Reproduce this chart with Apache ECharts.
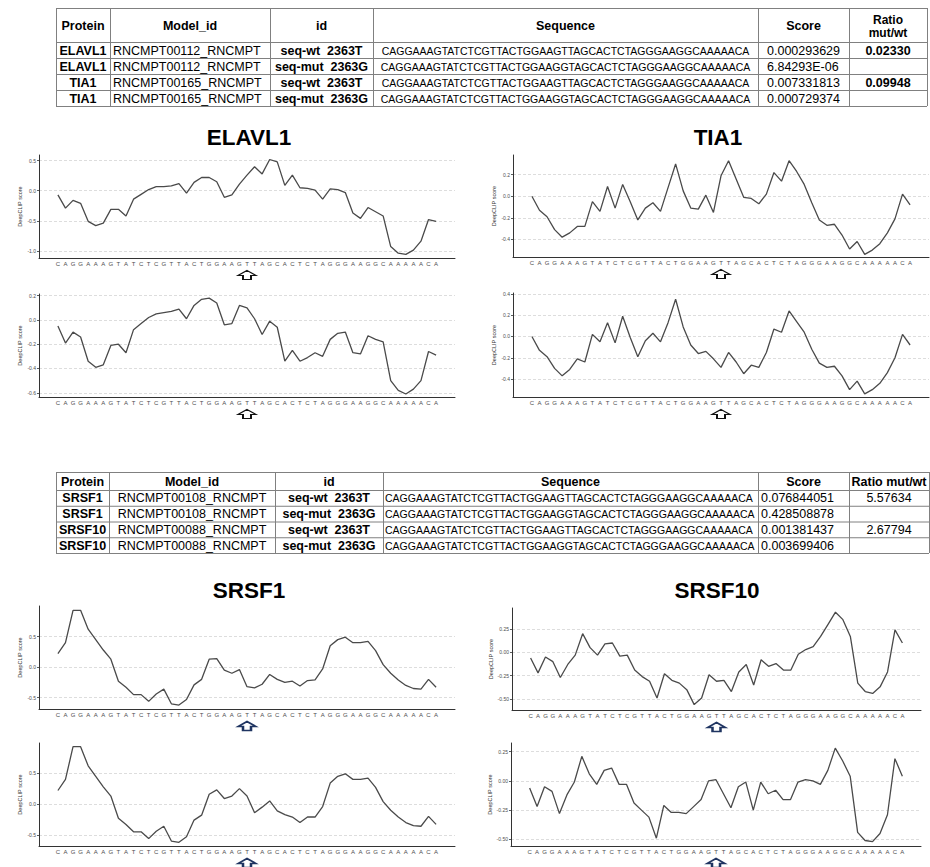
<!DOCTYPE html>
<html>
<head>
<meta charset="utf-8">
<style>
html,body{margin:0;padding:0;background:#ffffff;}
#c{width:930px;height:867px;}
</style>
<script src="https://cdn.jsdelivr.net/npm/echarts@6/dist/echarts.min.js"></script>
</head>
<body>
<div id="c"></div>
<script>
// ---------------- DATA ----------------
const seqWt = "CAGGAAAGTATCTCGTTACTGGAAGTTAGCACTCTAGGGAAGGCAAAAACA";
const seqMut = "CAGGAAAGTATCTCGTTACTGGAAGGTAGCACTCTAGGGAAGGCAAAAACA";
const xLetters = seqWt.split('');
const mutationIndex = 25;
const chartTitles = ['ELAVL1', 'TIA1', 'SRSF1', 'SRSF10'];
const yAxisName = 'DeepCLIP score';

const elavl1Wt = [-0.07,-0.29,-0.16,-0.21,-0.51,-0.58,-0.54,-0.31,-0.31,-0.42,
  -0.14,-0.06,0.02,0.07,0.07,0.08,0.12,-0.04,0.14,0.22,
  0.22,0.15,-0.11,-0.07,0.11,0.26,0.40,0.28,0.52,0.48,
  0.09,0.26,0.05,0.04,0.01,-0.14,0.03,0.02,-0.03,-0.37,
  -0.46,-0.28,-0.35,-0.42,-0.93,-1.04,-1.06,-0.99,-0.84,-0.48,
  -0.51];
const elavl1Mut = [-0.05,-0.19,-0.10,-0.14,-0.34,-0.39,-0.37,-0.21,-0.20,-0.27,
  -0.08,-0.03,0.02,0.05,0.06,0.07,0.09,0.01,0.12,0.17,
  0.18,0.14,-0.04,-0.03,0.12,0.10,0.01,-0.12,-0.01,-0.06,
  -0.34,-0.25,-0.34,-0.31,-0.27,-0.30,-0.16,-0.11,-0.10,-0.27,
  -0.28,-0.13,-0.16,-0.18,-0.50,-0.58,-0.61,-0.57,-0.50,-0.26,
  -0.29];
const tia1Wt = [0.00,-0.13,-0.19,-0.31,-0.38,-0.34,-0.28,-0.28,-0.05,-0.14,
  0.09,-0.11,0.11,-0.05,-0.22,-0.11,-0.06,-0.14,0.08,0.30,
  0.05,-0.11,-0.12,0.01,-0.15,0.19,0.33,0.16,-0.01,-0.02,
  -0.07,0.02,0.22,0.14,0.33,0.23,0.11,-0.06,-0.22,-0.27,
  -0.26,-0.36,-0.49,-0.42,-0.54,-0.50,-0.44,-0.34,-0.21,0.02,
  -0.08];
const tia1Mut = [0.00,-0.13,-0.19,-0.30,-0.37,-0.31,-0.21,-0.24,0.02,-0.05,
  0.13,-0.06,0.19,-0.01,-0.19,-0.04,0.03,-0.05,0.13,0.35,
  0.09,-0.08,-0.16,-0.14,-0.21,-0.29,-0.15,-0.24,-0.35,-0.27,
  -0.29,-0.15,0.07,0.04,0.24,0.14,0.04,-0.12,-0.25,-0.29,
  -0.28,-0.37,-0.50,-0.42,-0.54,-0.50,-0.44,-0.34,-0.20,0.02,
  -0.08];
const srsf1Wt = [0.22,0.40,0.93,0.93,0.62,0.45,0.28,0.13,-0.23,-0.33,
  -0.45,-0.45,-0.56,-0.44,-0.36,-0.60,-0.62,-0.53,-0.29,-0.20,
  0.13,0.14,-0.05,-0.10,-0.04,-0.32,-0.34,-0.28,-0.12,-0.20,
  -0.25,-0.23,-0.31,-0.22,-0.21,-0.03,0.35,0.45,0.49,0.40,
  0.40,0.42,0.27,0.04,-0.10,-0.21,-0.30,-0.35,-0.36,-0.20,
  -0.33];
const srsf1Mut = [0.22,0.40,0.93,0.93,0.62,0.45,0.28,0.13,-0.23,-0.33,
  -0.45,-0.45,-0.56,-0.44,-0.36,-0.60,-0.62,-0.53,-0.26,-0.18,
  0.16,0.23,0.09,0.13,0.25,0.13,-0.14,-0.05,0.05,-0.11,
  -0.17,-0.21,-0.30,-0.21,-0.21,-0.04,0.34,0.45,0.49,0.40,
  0.40,0.42,0.27,0.04,-0.10,-0.21,-0.30,-0.35,-0.36,-0.20,
  -0.33];
const srsf10Wt = [-0.06,-0.22,-0.05,-0.10,-0.27,-0.13,-0.03,0.20,0.05,-0.03,
  0.09,0.10,-0.04,-0.03,-0.19,-0.26,-0.31,-0.49,-0.23,-0.30,
  -0.33,-0.40,-0.56,-0.49,-0.24,-0.31,-0.30,-0.42,-0.21,-0.13,
  -0.35,-0.08,-0.15,-0.12,-0.19,-0.19,-0.02,0.03,0.06,0.17,
  0.30,0.43,0.35,0.17,-0.33,-0.42,-0.44,-0.37,-0.21,0.24,
  0.10];
const srsf10Mut = [-0.06,-0.22,-0.05,-0.09,-0.28,-0.12,-0.01,0.21,0.06,-0.03,
  0.09,0.11,-0.03,-0.03,-0.19,-0.25,-0.31,-0.49,-0.21,-0.27,
  -0.27,-0.28,-0.22,-0.16,0.00,0.01,-0.11,-0.23,-0.05,-0.01,
  -0.25,-0.01,-0.11,-0.08,-0.16,-0.16,-0.01,0.01,0.00,-0.03,
  0.09,0.28,0.17,0.04,-0.44,-0.51,-0.52,-0.45,-0.29,0.19,
  0.04];

const ticksElavl1Wt = [-1.0,-0.5,0.0,0.5];
const ticksElavl1Mut = [-0.6,-0.4,-0.2,0.0,0.2];
const ticksTia1Wt = [-0.4,-0.2,0.0,0.2];
const ticksTia1Mut = [-0.4,-0.2,0.0,0.2,0.4];
const ticksSrsf1 = [-0.5,0.0,0.5];
const ticksSrsf10 = [-0.50,-0.25,0.00,0.25];

const tableHeader = ['Protein','Model_id','id','Sequence','Score','Ratio mut/wt'];
const topProteins = ['ELAVL1','ELAVL1','TIA1','TIA1'];
const topModels = ['RNCMPT00112_RNCMPT','RNCMPT00112_RNCMPT','RNCMPT00165_RNCMPT','RNCMPT00165_RNCMPT'];
const topIds = ['seq-wt  2363T','seq-mut  2363G','seq-wt  2363T','seq-mut  2363G'];
const topSeqs = [seqWt, seqMut, seqWt, seqMut];
const topScores = ['0.000293629','6.84293E-06','0.007331813','0.000729374'];
const topRatios = ['0.02330','','0.09948',''];

const botProteins = ['SRSF1','SRSF1','SRSF10','SRSF10'];
const botModels = ['RNCMPT00108_RNCMPT','RNCMPT00108_RNCMPT','RNCMPT00088_RNCMPT','RNCMPT00088_RNCMPT'];
const botIds = ['seq-wt  2363T','seq-mut  2363G','seq-wt  2363T','seq-mut  2363G'];
const botSeqs = [seqWt, seqMut, seqWt, seqMut];
const botScores = ['0.076844051','0.428508878','0.001381437','0.003699406'];
const botRatios = ['5.57634','','2.67794',''];

// ---------------- LAYOUT / STYLE ----------------
const FONT = '"Liberation Sans", Arial, Helvetica, sans-serif';
const panelSeries = [elavl1Wt, elavl1Mut, tia1Wt, tia1Mut, srsf1Wt, srsf1Mut, srsf10Wt, srsf10Mut];
const panelTicks = [ticksElavl1Wt, ticksElavl1Mut, ticksTia1Wt, ticksTia1Mut, ticksSrsf1, ticksSrsf1, ticksSrsf10, ticksSrsf10];
const panelDecimals = [1,1,1,1,1,1,2,2];
const panelLayout = [
  {left:39, top:155, width:416, height:103, min:-1.12, max:0.595, arrow:'#111111', aw:1.4},
  {left:39, top:294, width:416, height:103, min:-0.635, max:0.214, arrow:'#111111', aw:1.4},
  {left:513, top:155, width:416, height:102, min:-0.564, max:0.383, arrow:'#111111', aw:1.4},
  {left:513, top:293, width:416, height:104, min:-0.569, max:0.409, arrow:'#111111', aw:1.4},
  {left:39, top:606, width:416, height:103, min:-0.685, max:1.0, arrow:'#1f3461', aw:1.8},
  {left:39, top:743, width:416, height:103, min:-0.68, max:0.99, arrow:'#1f3461', aw:1.8},
  {left:512, top:608, width:409, height:102, min:-0.618, max:0.475, arrow:'#1f3461', aw:1.8},
  {left:511, top:743, width:410, height:103, min:-0.557, max:0.324, arrow:'#1f3461', aw:1.8}
];
const titleLayout = [
  {x:249, y:137}, {x:718, y:137}, {x:249, y:590.5}, {x:717, y:590.5}
];
const arrowPath = 'path://M9,0 L18,5 L13,5 L13,9 L5,9 L5,5 L0,5 Z';

const grids = [], xAxes = [], yAxes = [], series = [];
panelLayout.forEach(function (p, i) {
  grids.push({left:p.left, top:p.top, width:p.width, height:p.height, containLabel:false, outerBoundsMode:'none', show:false});
  xAxes.push({
    type:'value', gridIndex:i, min:-2.5, max:52.5, interval:0.5,
    axisLine:{show:true, onZero:false, lineStyle:{color:'#333333', width:1}},
    axisTick:{show:false},
    splitLine:{show:false},
    axisLabel:{show:true, margin:3, fontSize:6, color:'#4d4d4d', fontFamily:FONT,
      showMinLabel:true, showMaxLabel:true, hideOverlap:false,
      formatter:function (v) {
        const k = Math.round(v * 2) / 2;
        return (Number.isInteger(k) && k >= 0 && k < xLetters.length) ? xLetters[k] : '';
      }}
  });
  const ticks = panelTicks[i];
  const dec = panelDecimals[i];
  yAxes.push({
    type:'value', gridIndex:i, min:p.min, max:p.max,
    name:yAxisName, nameLocation:'middle', nameGap:15,
    nameTextStyle:{fontSize:5.5, color:'#333333', fontFamily:FONT},
    axisLine:{show:true, onZero:false, lineStyle:{color:'#333333', width:1}},
    axisTick:{show:true, length:2, customValues:ticks, lineStyle:{color:'#333333', width:0.8}},
    axisLabel:{show:true, customValues:ticks, margin:3, fontSize:5, color:'#4d4d4d', fontFamily:FONT,
      formatter:function (v) { return Number(v).toFixed(dec); }},
    splitLine:{show:true, lineStyle:{color:'#d4d4d4', width:0.8, type:[3,2]}}
  });
  series.push({
    type:'line', xAxisIndex:i, yAxisIndex:i, silent:true, animation:false,
    symbol:'none', showSymbol:false,
    lineStyle:{color:'#4a4a4a', width:1.3},
    data: panelSeries[i].map(function (v, k) { return [k, v]; }),
    markPoint:{
      silent:true, animation:false,
      symbol:arrowPath, symbolSize:[18,9], symbolOffset:[0,17],
      label:{show:false},
      itemStyle:{color:'#ffffff', borderColor:p.arrow, borderWidth:p.aw},
      data:[{coord:[mutationIndex, p.min]}]
    }
  });
});

// ---------------- TABLES (graphic) ----------------
const graphics = [];
function font(sz, bold) { return (bold ? 'bold ' : '') + sz + 'px ' + FONT; }
function addText(x, y, s, sz, bold, align) {
  graphics.push({type:'text', x:x, y:y, silent:true,
    style:{text:s, fill:'#000000', font:font(sz, bold),
      textAlign:align, align:align, textVerticalAlign:'middle', verticalAlign:'middle'}});
}
function addLine(x1, y1, x2, y2, c) {
  graphics.push({type:'line', silent:true, shape:{x1:x1, y1:y1, x2:x2, y2:y2},
    style:{stroke:c || '#808080', lineWidth:1}});
}
function drawTable(cols, rows, cells, headerLines, colStyles) {
  const L = cols[0], R = cols[cols.length - 1], T = rows[0], B = rows[rows.length - 1];
  rows.forEach(function (y) { addLine(L, y + 0.5, R, y + 0.5); });
  cols.forEach(function (x) { addLine(x + 0.5, T, x + 0.5, B); });
  for (let c = 0; c < cols.length - 1; c++) {
    const cx = (cols[c] + cols[c + 1]) / 2;
    const lines = headerLines[c];
    const hMid = (rows[0] + rows[1]) / 2 + 1;
    if (lines.length === 1) addText(cx, hMid, lines[0], 12.5, true, 'center');
    else {
      addText(cx, hMid - 6.5, lines[0], 12, true, 'center');
      addText(cx, hMid + 6.5, lines[1], 12, true, 'center');
    }
  }
  for (let r = 0; r < cells.length; r++) {
    const cy = (rows[r + 1] + rows[r + 2]) / 2 + 0.5;
    for (let c = 0; c < cols.length - 1; c++) {
      const st = colStyles[c];
      const x = st.align === 'center' ? (cols[c] + cols[c + 1]) / 2 : cols[c] + st.pad;
      addText(x, cy, cells[r][c], st.size, st.bold, st.align);
    }
  }
}

const topCells = topProteins.map(function (p, r) {
  return [p, topModels[r], topIds[r], topSeqs[r], topScores[r], topRatios[r]];
});
const botCells = botProteins.map(function (p, r) {
  return [p, botModels[r], botIds[r], botSeqs[r], botScores[r], botRatios[r]];
});
drawTable([56,110,270,373,758,849,927], [8,42,58,74,90,106], topCells,
  [[tableHeader[0]],[tableHeader[1]],[tableHeader[2]],[tableHeader[3]],[tableHeader[4]], tableHeader[5].split(' ')],
  [{align:'center', bold:true, size:12.5},
   {align:'left', pad:3, bold:false, size:12.5},
   {align:'center', bold:true, size:12.5},
   {align:'center', bold:false, size:10.5},
   {align:'left', pad:9, bold:false, size:12.5},
   {align:'center', bold:true, size:12.5}]);
drawTable([56,109,275,383,758,849,929], [472,490,505.75,521.5,537.25,553], botCells,
  [[tableHeader[0]],[tableHeader[1]],[tableHeader[2]],[tableHeader[3]],[tableHeader[4]],[tableHeader[5]]],
  [{align:'center', bold:true, size:12.5},
   {align:'center', bold:false, size:12.5},
   {align:'center', bold:true, size:12.5},
   {align:'left', pad:2, bold:false, size:10.5},
   {align:'left', pad:3, bold:false, size:12.5},
   {align:'center', bold:false, size:12.5}]);

chartTitles.forEach(function (t, i) {
  addText(titleLayout[i].x, titleLayout[i].y, t, 22.5, true, 'center');
});

const chart = echarts.init(document.getElementById('c'), null, {renderer:'svg', width:930, height:867});
chart.setOption({
  animation:false,
  backgroundColor:'#ffffff',
  grid:grids, xAxis:xAxes, yAxis:yAxes, series:series,
  graphic:{elements:graphics}
});
</script>
</body>
</html>
